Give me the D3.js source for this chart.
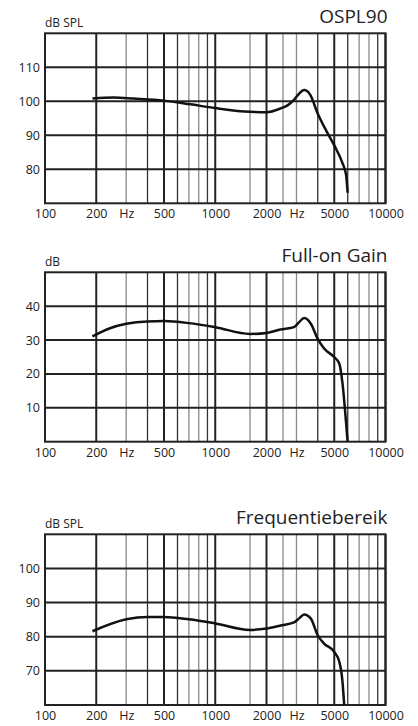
<!DOCTYPE html>
<html>
<head>
<meta charset="utf-8">
<script src="https://cdn.jsdelivr.net/npm/d3@7"></script>
<style>
  body { margin: 0; background: #fff; }
  text { font-family: "Open Sans", sans-serif; fill: #222; }
</style>
</head>
<body>
<div id="chart"></div>
<script>
const width = 418
const height = 726

// frequency grid (Hz)
const majorTicks = [100, 200, 500, 1000, 2000, 5000, 10000]
const darkTicks = [400, 600, 900, 4000, 6000, 9000]
const greyTicks = [300, 700, 800, 1600, 2500, 3000, 7000, 8000]
const xLabels = [[100, "100"], [200, "200"], [300, "Hz"], [500, "500"], [1000, "1000"],
                 [2000, "2000"], [3000, "Hz"], [5000, "5000"], [10000, "10000"]]

// OSPL90 curve
const osplFreq = [190, 253, 331, 500, 715, 1000, 1600, 2000, 2420, 2656, 2900, 3100, 3327, 3615, 3990, 4460, 4993, 5590, 5861, 5995]
const osplVals = [100.8, 101.1, 100.8, 100.2, 99.1, 98.0, 96.9, 96.8, 97.9, 98.8, 100.4, 102.2, 103.3, 101.9, 96.5, 91.6, 87.1, 81.8, 78.5, 73.1]

// Full-on gain curve
const gainFreq = [190, 241, 300, 400, 500, 700, 1000, 1600, 2000, 2420, 2900, 3100, 3330, 3645, 3990, 4360, 4990, 5350, 5590, 5850, 5990]
const gainVals = [31.1, 33.5, 34.8, 35.5, 35.6, 35.0, 33.8, 31.8, 32.1, 33.1, 33.8, 35.2, 36.5, 34.8, 30.4, 27.5, 25.0, 23.1, 17.2, 6.4, 0]

// Frequency response curve
const freqFreq = [190, 300, 400, 500, 700, 1000, 1600, 2000, 2420, 2900, 3100, 3330, 3645, 3990, 4360, 4990, 5350, 5590, 5720]
const freqVals = [81.6, 85.1, 85.8, 85.8, 85.1, 83.9, 82.0, 82.4, 83.3, 84.2, 85.3, 86.5, 85.3, 80.5, 78.0, 75.6, 72.7, 66.8, 60]

const panels = [
  { title: "OSPL90", unit: "dB SPL", top: 33.3, bottom: 203.3, yDomain: [70, 120], yTicks: [80, 90, 100, 110], freq: osplFreq, vals: osplVals },
  { title: "Full-on Gain", unit: "dB", top: 272.3, bottom: 441.7, yDomain: [0, 50], yTicks: [10, 20, 30, 40], freq: gainFreq, vals: gainVals },
  { title: "Frequentiebereik", unit: "dB SPL", top: 534.3, bottom: 705, yDomain: [60, 110], yTicks: [70, 80, 90, 100], freq: freqFreq, vals: freqVals }
]

const left = 45
const right = 385.5

const svg = d3.select("#chart").append("svg").attr("width", width).attr("height", height)

const x = d3.scaleLog().domain([100, 10000]).range([left, right])

panels.forEach(p => {
  const y = d3.scaleLinear().domain(p.yDomain).range([p.bottom, p.top])
  const g = svg.append("g")

  // vertical grid
  g.append("g").selectAll("line")
    .data(greyTicks)
    .join("line")
    .attr("x1", d => x(d)).attr("x2", d => x(d))
    .attr("y1", p.top).attr("y2", p.bottom)
    .attr("stroke", "#8a8a8a").attr("stroke-width", 1.3)

  g.append("g").selectAll("line")
    .data(darkTicks)
    .join("line")
    .attr("x1", d => x(d)).attr("x2", d => x(d))
    .attr("y1", p.top).attr("y2", p.bottom)
    .attr("stroke", "#333").attr("stroke-width", 1.3)

  g.append("g").selectAll("line")
    .data(majorTicks)
    .join("line")
    .attr("x1", d => x(d)).attr("x2", d => x(d))
    .attr("y1", p.top).attr("y2", p.bottom)
    .attr("stroke", "#222").attr("stroke-width", 2)

  // horizontal grid
  g.append("g").selectAll("line")
    .data(p.yTicks)
    .join("line")
    .attr("x1", left).attr("x2", right)
    .attr("y1", d => y(d)).attr("y2", d => y(d))
    .attr("stroke", "#222").attr("stroke-width", 2)

  // frame
  g.append("rect")
    .attr("x", left).attr("y", p.top)
    .attr("width", right - left).attr("height", p.bottom - p.top)
    .attr("fill", "none").attr("stroke", "#222").attr("stroke-width", 2)

  // y labels
  const yAxis = g.append("g")
    .attr("transform", `translate(${left - 5},0)`)
    .call(d3.axisLeft(y).tickValues(p.yTicks).tickSize(0).tickPadding(0))
  yAxis.select(".domain").remove()
  yAxis.selectAll("text").attr("font-size", 12.5).attr("font-family", "Open Sans, sans-serif").attr("fill", "#222")

  // x labels
  const xAxis = g.append("g")
    .attr("transform", `translate(0,${p.bottom})`)
    .call(d3.axisBottom(x).tickValues(xLabels.map(d => d[0]))
      .tickFormat((d, i) => xLabels[i][1]).tickSize(0).tickPadding(6))
  xAxis.select(".domain").remove()
  xAxis.selectAll("text").attr("font-size", 12.5).attr("font-family", "Open Sans, sans-serif").attr("fill", "#222")

  // titles
  g.append("text")
    .attr("x", left).attr("y", p.top - 6)
    .attr("font-size", 12)
    .text(p.unit)

  g.append("text")
    .attr("x", right + 2).attr("y", p.top - 10.3)
    .attr("text-anchor", "end")
    .attr("font-size", 19)
    .text(p.title)

  // curve
  const line = d3.line()
    .curve(d3.curveMonotoneX)
    .x((d, i) => x(p.freq[i]))
    .y(d => y(d))

  g.append("path")
    .datum(p.vals)
    .attr("d", line)
    .attr("fill", "none")
    .attr("stroke", "#111")
    .attr("stroke-width", 2.5)
})
</script>
</body>
</html>
